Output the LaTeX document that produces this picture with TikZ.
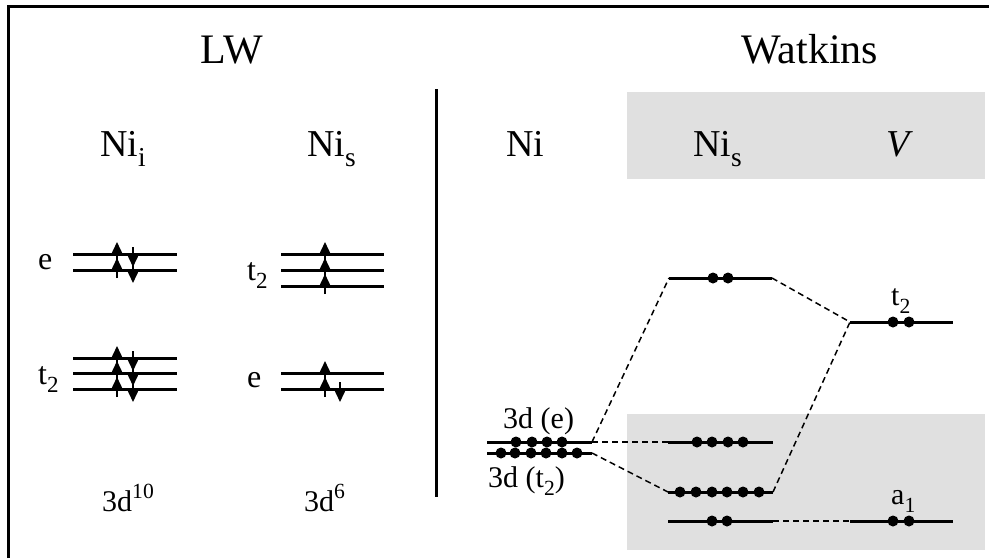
\documentclass[tikz,border=0pt]{standalone}
\usepackage{fontspec}
\setmainfont{Liberation Serif}
\usepackage{graphicx}
\usetikzlibrary{arrows.meta}
\newcommand\sbs[1]{\raisebox{-0.27em}{\scalebox{0.72}{#1}}}
\newcommand\sps[1]{\raisebox{0.42em}{\scalebox{0.72}{#1}}}
\begin{document}
\begin{tikzpicture}[x=1pt,y=-1pt,
 lvl/.style={line width=3pt},
 spin/.style={line width=1.6pt,-{Triangle[width=10pt,length=11pt]}},
 elec/.style={circle,fill=black,inner sep=0pt,minimum size=11pt},
 conn/.style={dash pattern=on 6pt off 4pt, line width=1.5pt},
 lab/.style={inner sep=0pt, anchor=base west},
 title/.style={inner sep=0pt, anchor=base, font=\fontsize{42}{48}\selectfont},
 head/.style={lab, font=\fontsize{38}{44}\selectfont},
 lvllab/.style={lab, font=\fontsize{32}{38}\selectfont},
 small/.style={lab, font=\fontsize{30}{36}\selectfont},
 shade/.style={fill=black!12}
]
\useasboundingbox (0,0) rectangle (989,558);
% gray boxes
\fill[shade] (627,92) rectangle (985,179);
\fill[shade] (627,414) rectangle (985,550);
% frame
\draw[line width=3pt] (8.5,558) -- (8.5,6.5) -- (989,6.5);
% divider
\draw[line width=3pt] (436,89) -- (436,497);
% titles
\node[title] (tLW) at (232,63) {LW};
\node[title] (tW) at (810,63) {Watkins};
% column heads
\node[head] (hNii) at (100,156) {Ni\sbs{i}};
\node[head] (hNis) at (307,156) {Ni\sbs{s}};
\node[head] (hNi) at (506,156) {Ni};
\node[head] (hNis2) at (693,156) {Ni\sbs{s}};
\node[head] (hV) at (886,156) {\textit{V}};
% ---- LW: Ni_i ----
\foreach \y in {254,270} {\draw[lvl] (73,\y) -- (177,\y);}
\foreach \y in {358,373,389} {\draw[lvl] (73,\y) -- (177,\y);}
\foreach \y in {254,270,358,373,389} {
  \draw[spin] (117,\y+8) -- (117,\y-12);
  \draw[spin] (133,\y-7) -- (133,\y+13);
}
\node[lvllab] (le1) at (38,269) {e};
\node[lvllab] (lt1) at (38,384) {t\sbs{2}};
% ---- LW: Ni_s ----
\foreach \y in {254,270,286,373,389} {\draw[lvl] (281,\y) -- (384,\y);}
\foreach \y in {254,270,286,373,389} {\draw[spin] (325,\y+8) -- (325,\y-12);}
\draw[spin] (340,382) -- (340,402);
\node[lvllab] (lt2) at (247,280) {t\sbs{2}};
\node[lvllab] (le2) at (247,387) {e};
% configurations
\node[small] (c10) at (102,511) {3d\sps{10}};
\node[small] (c6) at (304,511) {3d\sps{6}};
% ---- Watkins ----
\draw[lvl] (487,442) coordinate (Nie-w) -- (592,442) coordinate (Nie-e);
\draw[lvl] (487,453) coordinate (Nit-w) -- (592,453) coordinate (Nit-e);
\foreach \x [count=\i] in {516,532,547,562} {\node[elec] (nie\i) at (\x,442) {};}
\foreach \x [count=\i] in {501,515,531,546,562,577} {\node[elec] (nit\i) at (\x,453) {};}
\node[small] (l3de) at (503,428) {3d (e)};
\node[small] (l3dt) at (488,487) {3d (t\sbs{2})};
% Ni_s levels
\draw[lvl] (669,278) coordinate (S1-w) -- (772,278) coordinate (S1-e);
\draw[lvl] (668,442) coordinate (S2-w) -- (773,442) coordinate (S2-e);
\draw[lvl] (668,492) coordinate (S3-w) -- (773,492) coordinate (S3-e);
\draw[lvl] (668,521) coordinate (S4-w) -- (773,521) coordinate (S4-e);
\foreach \x [count=\i] in {713,728} {\node[elec] (sa\i) at (\x,278) {};}
\foreach \x [count=\i] in {697,712,728,743} {\node[elec] (sb\i) at (\x,442) {};}
\foreach \x [count=\i] in {680,696,712,727,743,759} {\node[elec] (sc\i) at (\x,492) {};}
\foreach \x [count=\i] in {712,727} {\node[elec] (sd\i) at (\x,521) {};}
% V levels
\draw[lvl] (850,322) coordinate (Vt-w) -- (953,322) coordinate (Vt-e);
\draw[lvl] (850,521) coordinate (Va-w) -- (953,521) coordinate (Va-e);
\foreach \x [count=\i] in {893,909} {\node[elec] (vt\i) at (\x,322) {};}
\foreach \x [count=\i] in {893,909} {\node[elec] (va\i) at (\x,521) {};}
\node[small] (lvt) at (891,305) {t\sbs{2}};
\node[small] (lva) at (891,504) {a\sbs{1}};
% connectors
\draw[conn] (Nie-e) -- (S1-w);
\draw[conn] (Nie-e) -- (S2-w);
\draw[conn] (Nit-e) -- (S3-w);
\draw[conn] (S1-e) -- (Vt-w);
\draw[conn] (S3-e) -- (Vt-w);
\draw[conn] (S4-e) -- (Va-w);
\end{tikzpicture}
\end{document}
